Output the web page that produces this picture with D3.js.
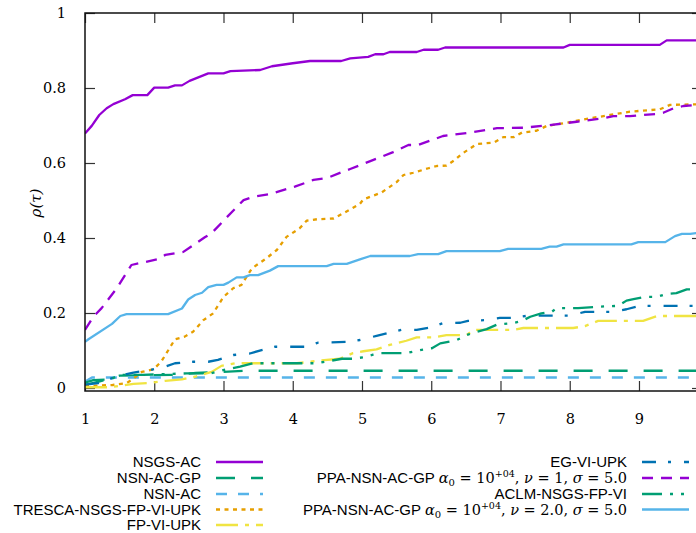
<!DOCTYPE html>
<html><head><meta charset="utf-8">
<script src="https://cdn.jsdelivr.net/npm/d3@7"></script>
<style>body{margin:0;background:#fff}svg{display:block}</style>
</head><body>
<svg id="c" width="696" height="533"></svg>
<script>
// ---------- data ----------
const xTicks = [1,2,3,4,5,6,7,8,9];
const yTicks = [0,0.2,0.4,0.6,0.8,1];
const yTickLabels = ["0","0.2","0.4","0.6","0.8","1"];

const nsgsAC = [[1.0,0.679],[1.097,0.699],[1.206,0.728],[1.313,0.746],[1.409,0.757],[1.578,0.770],[1.689,0.781],[1.90,0.781],[2.0,0.801],[2.20,0.801],[2.30,0.807],[2.40,0.807],[2.51,0.819],[2.78,0.839],[3.0,0.839],[3.10,0.845],[3.53,0.848],[3.7,0.858],[4.0,0.866],[4.25,0.872],[4.7,0.872],[4.83,0.879],[5.09,0.883],[5.19,0.89],[5.31,0.89],[5.40,0.896],[5.79,0.896],[5.89,0.902],[6.10,0.902],[6.20,0.908],[7.91,0.908],[8.0,0.915],[9.30,0.915],[9.40,0.927],[10,0.927]];
const nsnACGP = [[1,0.008],[1.2,0.017],[1.5,0.033],[2.3,0.035],[2.6,0.04],[3.0,0.043],[3.3,0.046],[10,0.046]];
const nsnAC = [[1,0.017],[1.1,0.028],[10,0.028]];
const tresca = [[1,0.005],[1.4,0.008],[1.6,0.013],[1.7,0.025],[1.82,0.043],[1.99,0.05],[2.1,0.07],[2.2,0.1],[2.3,0.13],[2.44,0.137],[2.56,0.15],[2.71,0.181],[2.85,0.199],[3.0,0.243],[3.14,0.266],[3.26,0.275],[3.41,0.319],[3.62,0.346],[3.77,0.368],[3.91,0.403],[4.10,0.426],[4.20,0.446],[4.35,0.45],[4.59,0.452],[4.73,0.466],[4.97,0.491],[5.02,0.503],[5.28,0.521],[5.50,0.549],[5.60,0.568],[5.74,0.574],[5.96,0.586],[6.08,0.592],[6.22,0.593],[6.34,0.608],[6.44,0.624],[6.66,0.651],[6.90,0.654],[7.04,0.669],[7.19,0.669],[7.31,0.681],[7.52,0.686],[7.67,0.699],[7.91,0.706],[8.29,0.719],[8.58,0.728],[8.87,0.737],[9.30,0.743],[9.45,0.755],[10,0.757]];
const fpVIUPK = [[1.0,0.002],[1.36,0.002],[1.48,0.005],[1.70,0.011],[1.96,0.014],[2.16,0.019],[2.40,0.023],[2.59,0.03],[2.83,0.043],[2.97,0.059],[3.17,0.066],[4.06,0.066],[4.39,0.073],[4.68,0.078],[4.87,0.093],[5.02,0.098],[5.21,0.103],[5.40,0.115],[5.64,0.126],[5.79,0.135],[6.03,0.135],[6.22,0.141],[6.51,0.141],[6.61,0.155],[7.18,0.155],[7.33,0.16],[8.05,0.16],[8.22,0.165],[8.41,0.179],[9.06,0.179],[9.26,0.192],[10,0.192]];
const egVIUPK = [[1.0,0.009],[1.19,0.013],[1.48,0.032],[1.70,0.041],[1.94,0.048],[2.16,0.057],[2.30,0.066],[2.56,0.07],[2.78,0.07],[2.92,0.075],[3.14,0.088],[3.38,0.092],[3.55,0.101],[3.74,0.11],[4.18,0.11],[4.37,0.121],[4.78,0.123],[4.97,0.128],[5.21,0.139],[5.38,0.147],[5.57,0.155],[5.79,0.155],[5.98,0.161],[6.17,0.173],[6.42,0.174],[6.53,0.179],[6.78,0.181],[6.99,0.187],[7.18,0.187],[7.40,0.193],[8.0,0.193],[8.22,0.203],[8.61,0.203],[8.82,0.21],[9.01,0.219],[10,0.219]];
const ppaNu1 = [[1.0,0.155],[1.12,0.19],[1.24,0.213],[1.46,0.266],[1.67,0.328],[2.04,0.343],[2.16,0.355],[2.42,0.363],[2.73,0.402],[2.83,0.413],[3.02,0.45],[3.29,0.501],[3.43,0.51],[3.67,0.517],[4.03,0.537],[4.30,0.555],[4.5,0.56],[4.7,0.575],[4.83,0.584],[5.12,0.605],[5.45,0.629],[5.67,0.648],[5.81,0.648],[6.17,0.672],[6.56,0.681],[6.95,0.693],[7.33,0.694],[7.71,0.701],[8.10,0.71],[8.48,0.719],[8.63,0.725],[8.87,0.725],[9.26,0.731],[9.35,0.734],[9.50,0.746],[9.64,0.752],[10,0.757]];
const aclm = [[1.0,0.014],[1.12,0.021],[1.36,0.023],[1.51,0.035],[1.84,0.035],[2.47,0.039],[2.81,0.039],[3.05,0.05],[3.24,0.057],[3.43,0.066],[4.35,0.066],[4.71,0.078],[4.87,0.078],[5.02,0.082],[5.16,0.089],[5.26,0.093],[5.64,0.093],[5.84,0.101],[6.01,0.106],[6.13,0.119],[6.37,0.128],[6.51,0.141],[6.66,0.15],[6.80,0.157],[6.95,0.169],[7.18,0.173],[7.31,0.179],[7.43,0.19],[7.59,0.199],[7.74,0.203],[7.81,0.213],[8.12,0.213],[8.44,0.217],[8.70,0.219],[8.82,0.233],[8.92,0.237],[9.09,0.243],[9.26,0.243],[9.40,0.251],[9.54,0.253],[9.69,0.263],[10,0.263]];
const ppaNu2 = [[1.0,0.123],[1.05,0.13],[1.39,0.171],[1.51,0.192],[1.60,0.197],[2.20,0.197],[2.40,0.212],[2.49,0.236],[2.59,0.248],[2.69,0.254],[2.78,0.269],[2.90,0.275],[3.0,0.275],[3.07,0.281],[3.19,0.295],[3.29,0.295],[3.38,0.301],[3.50,0.301],[3.67,0.313],[3.79,0.325],[4.49,0.325],[4.59,0.331],[4.78,0.331],[4.97,0.343],[5.12,0.352],[5.69,0.352],[5.81,0.357],[6.10,0.357],[6.22,0.365],[6.99,0.365],[7.11,0.371],[7.59,0.371],[7.71,0.377],[7.81,0.377],[7.91,0.383],[8.89,0.383],[8.99,0.389],[9.38,0.389],[9.52,0.405],[9.62,0.411],[9.74,0.411],[10,0.417]];

const seriesNames = ["NSGS-AC","NSN-AC-GP","NSN-AC","TRESCA-NSGS-FP-VI-UPK","FP-VI-UPK","EG-VI-UPK","PPA1","ACLM-NSGS-FP-VI","PPA2"];
const seriesData = [nsgsAC, nsnACGP, nsnAC, tresca, fpVIUPK, egVIUPK, ppaNu1, aclm, ppaNu2];
const seriesColors = ["#9400d3","#009e73","#56b4e9","#e69f00","#f0e442","#0072b2","#9400d3","#009e73","#56b4e9"];
const seriesDash = [null,"19 16","11 11","4 4.5","22 7 4 7","14 12 3 13","11 8","20 8 3 8 3 8",null];

// ---------- layout ----------
const L = 85, R = 702, T = 13, B = 391, Y0 = 388;
const svg = d3.select("#c");
const x = d3.scaleLinear().domain([1, 9.91]).range([L, R]);
const y = d3.scaleLinear().domain([0, 1]).range([Y0, T]);

svg.append("defs").append("clipPath").attr("id","clip")
  .append("rect").attr("x",L).attr("y",T).attr("width",R-L).attr("height",B-T);

const serif = "DejaVu Serif";
const sans = "Liberation Sans";

const tickStyle = g => { g.select(".domain").remove(); g.selectAll(".tick line").attr("stroke","#333").attr("stroke-width",1.2); };
const serifText = g => g.attr("font-family",null).selectAll("text")
  .attr("font-family",serif).style("font-size","14.5px").attr("fill","#000");
svg.append("g").attr("transform",`translate(${L},0)`)
  .call(d3.axisLeft(y).tickValues(yTicks).tickSizeInner(-10).tickSizeOuter(0).tickFormat((d,i)=>yTickLabels[i]).tickPadding(19))
  .call(tickStyle).call(serifText);
svg.append("g").attr("transform",`translate(${R},0)`)
  .call(d3.axisRight(y).tickValues(yTicks).tickSizeInner(-10).tickSizeOuter(0).tickFormat(""))
  .call(tickStyle);
svg.append("g").attr("transform",`translate(0,${B})`)
  .call(d3.axisBottom(x).tickValues(xTicks).tickSizeInner(-10).tickSizeOuter(0).tickFormat(d3.format("d")).tickPadding(23))
  .call(tickStyle).call(serifText);
svg.append("g").attr("transform",`translate(0,${T})`)
  .call(d3.axisTop(x).tickValues(xTicks).tickSizeInner(-10).tickSizeOuter(0).tickFormat(""))
  .call(tickStyle);

const line = d3.line().x(d=>x(d[0])).y(d=>y(d[1]));
const plot = svg.append("g").attr("clip-path","url(#clip)");
seriesData.forEach((data,i)=>{
  plot.append("path").datum(data).attr("d",line)
    .attr("fill","none").attr("stroke",seriesColors[i]).attr("stroke-width",2.3)
    .attr("stroke-dasharray",seriesDash[i]).attr("stroke-linejoin","round");
});

svg.append("rect").attr("x",L).attr("y",T).attr("width",R-L).attr("height",B-T)
  .attr("fill","none").attr("stroke","#111").attr("stroke-width",1.5);

svg.append("text").attr("transform","translate(41,203) rotate(-90)")
  .attr("text-anchor","middle").attr("font-family",serif)
  .style("font-size","15px").style("font-style","italic")
  .text("ρ(τ)");

// legend
function mathLabel(t, nuText){
  const m = (txt, opts={}) => {
    const s = t.append("tspan").attr("font-family",serif).style("font-size",(opts.size||14.5)+"px");
    if (opts.italic) s.style("font-style","italic");
    if (opts.dy) s.attr("dy",opts.dy);
    s.text(txt);
  };
  t.append("tspan").text("PPA-NSN-AC-GP ");
  m("α",{italic:true});
  m("0",{size:10,dy:3});
  m(" = 10",{dy:-3});
  m("+04",{size:9.5,dy:-6});
  m(",",{dy:6});
  m(" ν",{italic:true});
  m(" = "+nuText+",");
  m(" σ",{italic:true});
  m(" = 5.0");
}
const legendRows = [462,478,494,509.5,525];
const leg = svg.append("g");
seriesNames.forEach((name,i)=>{
  const col = i < 5 ? 0 : 1;
  const row = col === 0 ? i : i-5;
  const tx = col === 0 ? 201 : 627;
  const sx = col === 0 ? 216 : 642;
  const cy = legendRows[row];
  const t = leg.append("text").attr("x",tx).attr("y",cy+5.3).attr("text-anchor","end")
    .attr("font-family",sans).style("font-size","15px").attr("fill","#000");
  if (name === "PPA1") mathLabel(t,"1");
  else if (name === "PPA2") mathLabel(t,"2.0");
  else t.text(name);
  leg.append("line").attr("x1",sx).attr("x2",sx+47).attr("y1",cy).attr("y2",cy)
    .attr("stroke",seriesColors[i]).attr("stroke-width",2.3).attr("stroke-dasharray",seriesDash[i]);
});
</script>
</body></html>
